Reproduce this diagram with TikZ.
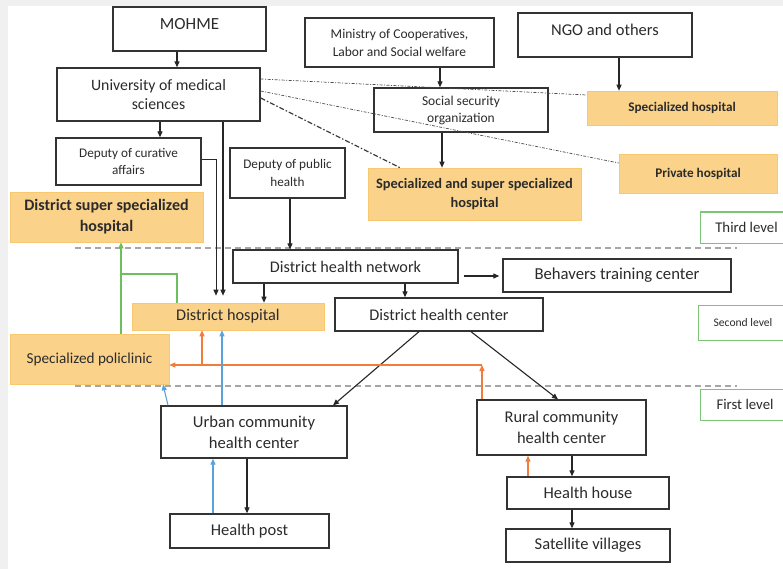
\documentclass[tikz,border=0pt]{standalone}
\usepackage{fontspec}
\setmainfont{Carlito}
\usetikzlibrary{arrows.meta}
\definecolor{txt}{HTML}{2B2B2B}
\definecolor{orfill}{HTML}{FBD28A}
\definecolor{ordraw}{HTML}{F8C870}
\definecolor{grn}{HTML}{7CC576}
\definecolor{orarrow}{HTML}{F07D3A}
\definecolor{blu}{HTML}{5AA2DC}
\definecolor{gline}{HTML}{6CBF5A}
\definecolor{bgray}{HTML}{F0F0F0}
\newcommand{\fs}[2]{\fontsize{#1}{#2}\selectfont}
\begin{document}
\begin{tikzpicture}[x=1pt,y=-1pt,
  box/.style={draw=black!80, line width=1.3pt, fill=white, text=txt, align=center, inner sep=0pt},
  obox/.style={fill=orfill, draw=ordraw, line width=0.6pt, text=txt, align=center, inner sep=0pt},
  lvl/.style={draw=grn, line width=1pt, fill=white, text=txt, inner sep=0pt},
  arr/.style={draw=black!85, line width=1.1pt, -{Triangle[length=6pt,width=5pt]}},
  oarr/.style={draw=orarrow, line width=1.1pt, -{Triangle[length=6pt,width=5pt]}},
  oline/.style={draw=orarrow, line width=1.1pt},
  barr/.style={draw=blu, line width=1.1pt, -{Triangle[length=6pt,width=5pt]}},
  garr/.style={draw=gline, line width=1.1pt, -{Triangle[length=6pt,width=5pt]}},
  gln/.style={draw=gline, line width=1.1pt},
  dashln/.style={draw=black!35, line width=1.1pt, dash pattern=on 6pt off 4pt},
  dd/.style={draw=black!70, line width=0.7pt, dash pattern=on 3pt off 1.5pt on 1pt off 1.5pt},
  ddthick/.style={draw=black!80, line width=1.2pt, dash pattern=on 5pt off 2pt on 1.5pt off 2pt},
]
\useasboundingbox (0,0) rectangle (783,569);
\fill[bgray] (0,0) rectangle (783,569);
\fill[white] (8,6) rectangle (783,569);

% dashed level separators
\coordinate (s1a) at (75,248); \coordinate (s1b) at (737,248);
\coordinate (s2a) at (75,386); \coordinate (s2b) at (737,386);
\draw[dashln] (s1a) -- (s1b);
\draw[dashln] (s2a) -- (s2b);

% boxes
\node[box, minimum width=153pt, minimum height=44pt, text depth=10pt, font=\fs{17}{20}] (mohme) at (189.5,29) {MOHME};
\node[box, minimum width=203pt, minimum height=53pt, font=\fs{15.8}{19}] (univ) at (158.5,94.5) {University of medical\\sciences};
\node[box, minimum width=189pt, minimum height=49pt, font=\fs{13.5}{18}] (min) at (399.5,42.5) {Ministry of Cooperatives,\\Labor and Social welfare};
\node[box, minimum width=174pt, minimum height=44pt, text depth=10pt, font=\fs{16.5}{20}] (ngo) at (605,35) {NGO and others};
\node[box, minimum width=174pt, minimum height=44pt, font=\fs{13.5}{17}] (ssec) at (461,110) {Social security\\organization};
\node[obox, minimum width=190pt, minimum height=34pt, font=\bfseries\fs{13.2}{16}] (sh) at (682,108) {Specialized hospital};
\node[obox, minimum width=158pt, minimum height=39pt, font=\bfseries\fs{13.2}{16}] (ph) at (698,173.5) {Private hospital};
\node[obox, minimum width=213pt, minimum height=52pt, font=\bfseries\fs{14.4}{19}] (sss) at (474.5,194) {Specialized and super specialized\\hospital};
\node[box, minimum width=145pt, minimum height=47pt, font=\fs{13.2}{17}] (dca) at (128.5,161.5) {Deputy of curative\\affairs};
\node[box, minimum width=115pt, minimum height=50pt, font=\fs{13.2}{18}] (dph) at (287.5,173) {Deputy of public\\health};
\node[obox, minimum width=193pt, minimum height=50pt, font=\bfseries\fs{16}{21}] (dssh) at (106.5,217) {District super specialized\\hospital};
\node[lvl, minimum width=93pt, minimum height=31pt, font=\fs{14.8}{16}] (l3) at (746.5,227.5) {Third level};
\node[box, minimum width=225pt, minimum height=33pt, font=\fs{16.2}{18}] (dhn) at (345.5,266.5) {District health network};
\node[box, minimum width=228pt, minimum height=33pt, font=\fs{16.7}{18}] (btc) at (617,275.5) {Behavers training center};
\node[obox, minimum width=192pt, minimum height=27pt, font=\fs{16.3}{18}] (dh) at (228,316.5) {District hospital};
\node[box, minimum width=208pt, minimum height=33pt, font=\fs{16.3}{18}] (dhc) at (439,314.5) {District health center};
\node[lvl, minimum width=90pt, minimum height=35pt, font=\fs{11.6}{13}] (l2) at (743,322.5) {Second level};
\node[obox, minimum width=159pt, minimum height=50pt, font=\fs{15.2}{17}] (spol) at (89.5,359) {Specialized policlinic};
\node[lvl, minimum width=90pt, minimum height=31pt, font=\fs{14.8}{16}] (l1) at (745,404.5) {First level};
\node[box, minimum width=186pt, minimum height=52pt, font=\fs{16.6}{21}] (urb) at (254,432) {Urban community\\health center};
\node[box, minimum width=169pt, minimum height=55pt, font=\fs{16.4}{21}] (rur) at (561.5,427.5) {Rural community\\health center};
\node[box, minimum width=159pt, minimum height=34pt, font=\fs{16.5}{18}] (hp) at (249.5,531) {Health post};
\node[box, minimum width=162pt, minimum height=32pt, font=\fs{16.5}{18}] (hh) at (588,493) {Health house};
\node[box, minimum width=164pt, minimum height=33pt, font=\fs{16.5}{18}] (sv) at (588,545.5) {Satellite villages};

% black connectors
\draw[arr] (mohme.south -| 177,0) -- (univ.north -| 177,0);
\draw[arr] (univ.south -| 160,0) -- (dca.north -| 160,0);
\draw[arr, shorten >=7pt] (univ.south -| 223,0) -- (dh.north -| 223,0);
\draw[arr, shorten >=7pt, line width=1pt] (dca.east |- 0,160) -| (dh.north -| 216,0);
\draw[arr] (dph.south -| 290,0) -- (dhn.north -| 290,0);
\draw[arr] (dhn.south -| 264,0) -- (dh.north -| 264,0);
\draw[arr] (dhn.south -| 405,0) -- (dhc.north -| 405,0);
\draw[arr, shorten <=5pt, shorten >=3pt] (dhn.east |- 0,276) -- (btc.west |- 0,276);
\draw[arr] (min.south -| 440,0) -- (ssec.north -| 440,0);
\draw[arr] (ssec.south -| 442,0) -- (sss.north -| 442,0);
\draw[arr] (ngo.south -| 619,0) -- (sh.north -| 619,0);
\draw[arr] (dhc.south -| 419,0) -- (urb.north -| 333,0);
\draw[arr] (dhc.south -| 471,0) -- (rur.north -| 558,0);
\draw[arr] (urb.south -| 247,0) -- (hp.north -| 247,0);
\draw[arr] (rur.south -| 572,0) -- (hh.north -| 572,0);
\draw[arr] (hh.south -| 572,0) -- (sv.north -| 572,0);

% dash-dot links
\draw[dd] (univ.east |- 0,79) -- (sh.west |- 0,95);
\draw[dd] (univ.east |- 0,91) -- (ph.west |- 0,163);
\draw[ddthick] (univ.east |- 0,98) -- (sss.north -| 400,0);

% orange referral
\coordinate (oj) at (482,365);
\coordinate (ob) at (202,365);
\draw[oarr] (rur.north -| 482,0) -- (oj);
\draw[oarr] (oj) -- (spol.east |- oj);
\draw[oarr] (ob) -- (dh.south -| ob);
\draw[oarr] (hh.north -| 528,0) -- (rur.south -| 528,0);

% blue referral
\draw[barr] (urb.north -| 222,0) -- (dh.south -| 222,0);
\draw[barr] (urb.north -| 168,0) -- (spol.south -| 163,0);
\draw[barr] (hp.north -| 213,0) -- (urb.south -| 213,0);

% green referral
\coordinate (gj) at (121,274);
\draw[garr] (spol.north -| gj) -- (dssh.south -| gj);
\draw[gln] (dh.north -| 177,0) |- (gj);
\end{tikzpicture}
\end{document}
